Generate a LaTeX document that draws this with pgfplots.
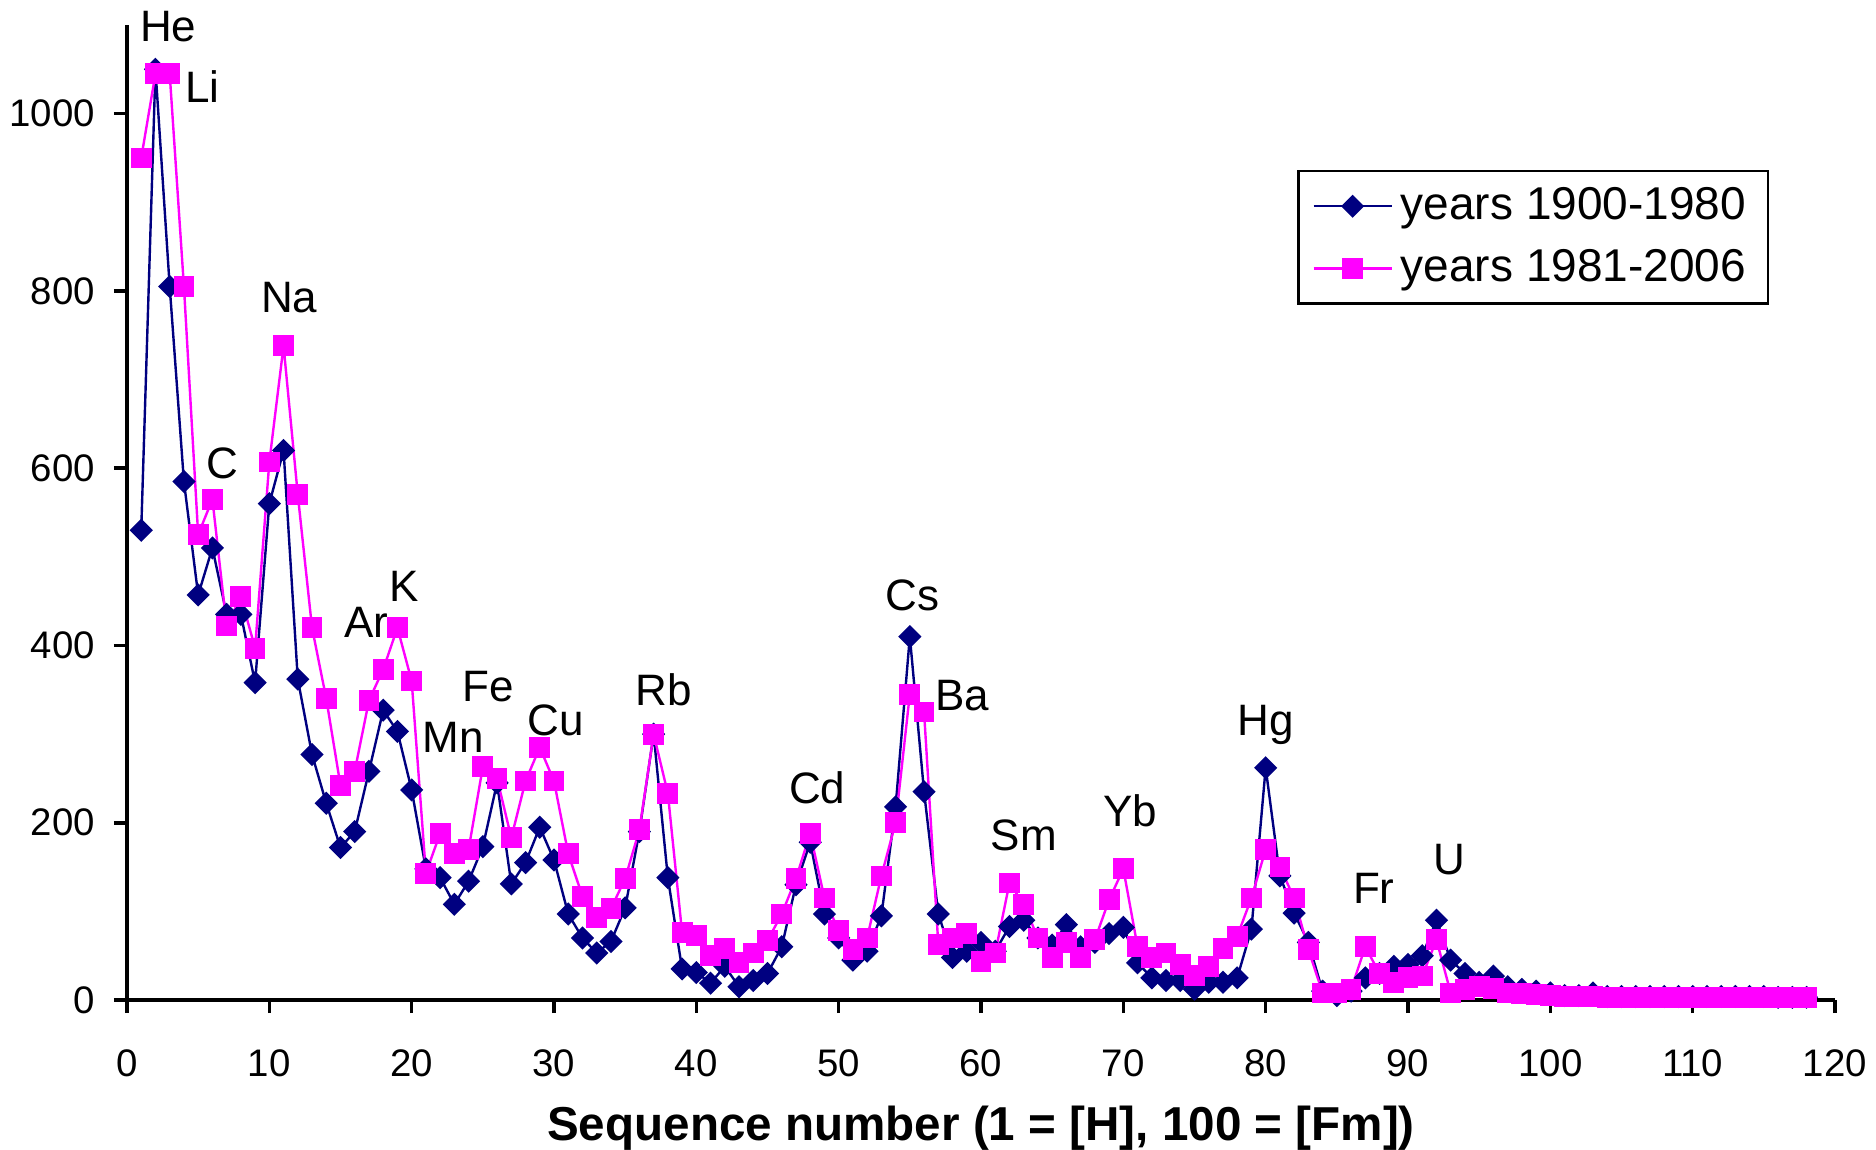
\documentclass[border=0pt]{standalone}
\usepackage{pgfplots}
\pgfplotsset{compat=1.18}
\usepackage{fontspec}
\setmainfont{Liberation Sans}
\definecolor{navyb}{RGB}{0,0,128}
\definecolor{magp}{RGB}{255,0,255}
\pgfplotstableread{
x a b
1 530 950
2 1050 1045
3 805 1045
4 585 805
5 457 525
6 510 565
7 435 422
8 435 455
9 358 397
10 560 607
11 620 738
12 362 570
13 277 420
14 222 340
15 172 242
16 190 258
17 258 338
18 327 373
19 303 420
20 237 360
21 148 143
22 138 188
23 108 165
24 134 170
25 173 263
26 245 250
27 131 183
28 155 247
29 195 285
30 158 247
31 97 165
32 70 117
33 53 93
34 66 103
35 104 137
36 190 192
37 300 300
38 138 233
39 35 76
40 31 73
41 19 50
42 38 58
43 15 42
44 22 53
45 30 67
46 60 97
47 130 137
48 178 188
49 97 115
50 70 78
51 45 57
52 55 70
53 95 140
54 218 200
55 410 345
56 235 325
57 97 63
58 48 70
59 55 75
60 65 43
61 55 53
62 83 132
63 90 108
64 70 70
65 62 48
66 85 65
67 60 48
68 65 68
69 75 113
70 82 148
71 42 60
72 25 48
73 22 53
74 22 40
75 12 28
76 20 38
77 20 58
78 25 72
79 80 115
80 262 170
81 140 150
82 98 115
83 65 57
84 10 8
85 5 8
86 10 12
87 25 60
88 30 30
89 38 20
90 40 25
91 50 27
92 90 68
93 45 8
94 30 12
95 20 15
96 27 13
97 15 8
98 12 7
99 10 6
100 8 5
101 5 4
102 5 4
103 8 4
104 4 3
105 4 3
106 4 3
107 4 3
108 4 3
109 4 3
110 4 3
111 4 3
112 4 3
113 4 3
114 4 3
115 4 3
116 3 3
117 3 3
118 3 3
}\datatable
\begin{document}
\begin{tikzpicture}
\useasboundingbox (-31.75pt,-37.25pt) rectangle (437.25pt,250pt);
\begin{axis}[
  scale only axis,
  width=427pt, height=243.75pt,
  xmin=0, xmax=120, ymin=0, ymax=1100,
  axis lines=left,
  axis line style={-, line width=0.9pt, black},
  xtick={0,10,...,120},
  ytick={0,200,...,1000},
  tick align=outside,
  major tick length=3.3pt,
  tick style={line width=0.9pt, black},
  ticklabel style={font=\fontsize{9.6}{11}\selectfont},
  xticklabel style={yshift=-5.5pt},
  yticklabel style={xshift=-1.2pt},
  /pgf/number format/assume math mode=true,
  /pgf/number format/1000 sep={},
  xlabel={\bfseries Sequence number (1 = [H], 100 = [Fm])},
  xlabel style={font=\fontsize{11.9}{13}\selectfont, yshift=-0.5pt},
  clip=false,
  legend style={at={(0.9615,0.8513)}, anchor=north east, draw=black, line width=0.6pt,
    font=\fontsize{11.5}{13}\selectfont, row sep=2pt, inner xsep=3.5pt, inner ysep=2pt},
  legend cell align=left,
  legend image code/.code={\draw[mark repeat=2,mark phase=2,#1] plot coordinates {(0pt,0pt) (9.75pt,0pt) (19.5pt,0pt)};},
]
\addplot[color=navyb, line width=0.6pt, mark=square*, mark size=1.75pt, mark options={rotate=45, fill=navyb, draw=navyb}] table[x=x,y=a] {\datatable};
\addlegendentry{years 1900-1980}
\addplot[color=magp, line width=0.6pt, mark=square*, mark size=2.3pt, mark options={fill=magp, draw=magp}] table[x=x,y=b] {\datatable};
\addlegendentry{years 1981-2006}
\begin{scope}[every node/.style={font=\fontsize{11}{13}\selectfont}]
\node at (axis cs:2.9,1098) {He};
\node at (axis cs:5.3,1031) {Li};
\node at (axis cs:11.4,793) {Na};
\node at (axis cs:6.7,605) {C};
\node at (axis cs:16.8,426) {Ar};
\node at (axis cs:19.5,467) {K};
\node at (axis cs:22.9,296) {Mn};
\node at (axis cs:25.4,354) {Fe};
\node at (axis cs:30.1,316) {Cu};
\node at (axis cs:37.7,350) {Rb};
\node at (axis cs:48.5,240) {Cd};
\node at (axis cs:55.2,457) {Cs};
\node at (axis cs:58.7,344) {Ba};
\node at (axis cs:63.0,186) {Sm};
\node at (axis cs:70.5,213) {Yb};
\node at (axis cs:80.0,310) {Hg};
\node at (axis cs:87.6,126) {Fr};
\node at (axis cs:92.9,159) {U};
\end{scope}
\end{axis}
\end{tikzpicture}
\end{document}
